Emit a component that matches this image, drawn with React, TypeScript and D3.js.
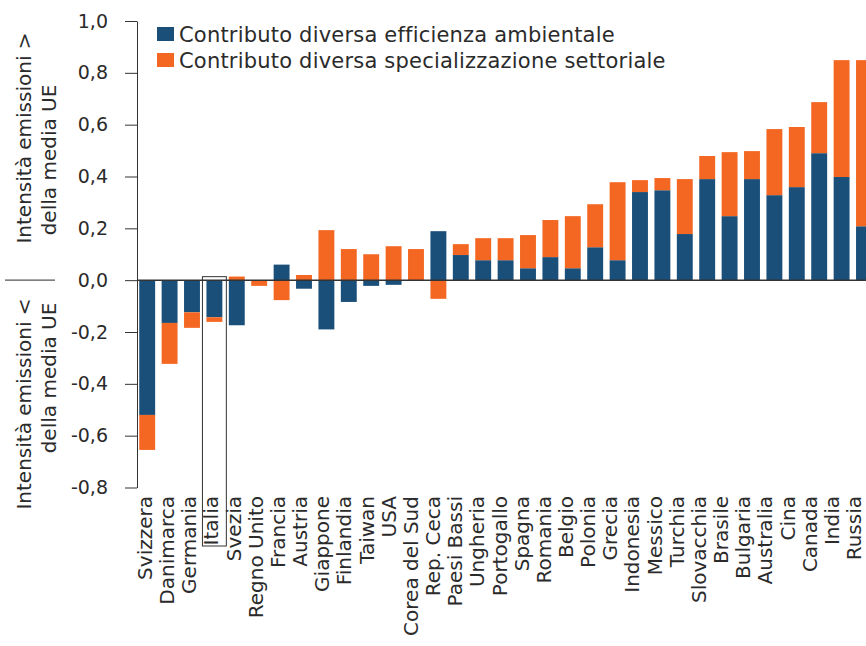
import React, { useEffect, useRef } from 'react';
import * as d3 from 'd3';

const countries = [
  'Svizzera', 'Danimarca', 'Germania', 'Italia', 'Svezia', 'Regno Unito', 'Francia', 'Austria',
  'Giappone', 'Finlandia', 'Taiwan', 'USA', 'Corea del Sud', 'Rep. Ceca', 'Paesi Bassi', 'Ungheria',
  'Portogallo', 'Spagna', 'Romania', 'Belgio', 'Polonia', 'Grecia', 'Indonesia', 'Messico',
  'Turchia', 'Slovacchia', 'Brasile', 'Bulgaria', 'Australia', 'Cina', 'Canada', 'India', 'Russia',
];

// Contributo diversa efficienza ambientale
const efficienza = [
  -0.52, -0.165, -0.124, -0.143, -0.174, 0.0, 0.06, -0.033,
  -0.19, -0.084, -0.022, -0.018, 0.0, 0.189, 0.097, 0.077,
  0.077, 0.046, 0.089, 0.046, 0.127, 0.077, 0.34, 0.347,
  0.178, 0.39, 0.247, 0.39, 0.328, 0.359, 0.49, 0.398, 0.208,
];

// Contributo diversa specializzazione settoriale
const specializzazione = [
  -0.135, -0.158, -0.06, -0.018, 0.014, -0.022, -0.077, 0.02,
  0.193, 0.12, 0.1, 0.131, 0.12, -0.072, 0.042, 0.085,
  0.085, 0.128, 0.143, 0.201, 0.166, 0.301, 0.046, 0.047,
  0.212, 0.089, 0.247, 0.108, 0.255, 0.232, 0.197, 0.451, 0.641,
];

const seriesNames = ['Contributo diversa efficienza ambientale', 'Contributo diversa specializzazione settoriale'];
const yTicks = [1.0, 0.8, 0.6, 0.4, 0.2, 0.0, -0.2, -0.4, -0.6, -0.8];
const highlighted = 'Italia';

const W = 866;
const H = 646;
const COLORS = ['#1a4f79', '#f46722'];
const FONT = "'DejaVu Sans', sans-serif";
const INK = '#2b2b2b';

const App: React.FC = () => {
  const svgRef = useRef<SVGSVGElement>(null);

  useEffect(() => {
    if (!svgRef.current) return;
    const svg = d3.select(svgRef.current);
    svg.selectAll('*').remove();

    const axisX = 137;
    const step = 22.4;
    const x = d3.scaleBand<string>()
      .domain(countries)
      .range([axisX, axisX + step * (countries.length - 0.29 + 0.2)])
      .paddingInner(0.29)
      .paddingOuter(0.1);

    // category labels sit on a slightly tighter grid than the bars
    const xLabel = d3.scalePoint<string>().domain(countries).range([146.5, 855.5]);

    const y = d3.scaleLinear().domain([-0.8, 1.0]).range([487.5, 21]);

    const rows = countries.map((c, i) => ({ country: c, a: efficienza[i], b: specializzazione[i] }));
    const stack = d3.stack<any>().keys(['a', 'b']).offset(d3.stackOffsetDiverging);
    const series = stack(rows);

    series.forEach((s, si) => {
      svg.append('g')
        .selectAll('rect')
        .data(s)
        .enter()
        .append('rect')
        .attr('x', d => x(d.data.country) || 0)
        .attr('width', x.bandwidth())
        .attr('y', d => y(Math.max(d[0], d[1])))
        .attr('height', d => Math.abs(y(d[0]) - y(d[1])))
        .attr('fill', COLORS[si]);
    });

    // zero line
    svg.append('line')
      .attr('x1', axisX).attr('x2', W)
      .attr('y1', y(0)).attr('y2', y(0))
      .attr('stroke', '#333').attr('stroke-width', 1.5);

    // y axis
    const yAxis = svg.append('g')
      .attr('transform', `translate(${axisX},0)`)
      .call(
        d3.axisLeft(y)
          .tickValues(yTicks)
          .tickSize(12)
          .tickSizeOuter(0)
          .tickPadding(17)
          .tickFormat(d => d3.format('.1f')(d as number).replace('.', ',').replace('−', '-'))
      );
    yAxis.select('.domain').attr('stroke', '#333');
    yAxis.selectAll('.tick line').attr('stroke', '#333');
    yAxis.selectAll('.tick text')
      .attr('fill', INK)
      .style('font-family', FONT)
      .style('font-size', '19px');

    // x labels
    svg.append('g')
      .selectAll('text')
      .data(countries)
      .enter()
      .append('text')
      .attr('transform', d => `translate(${(xLabel(d) || 0) + 5.5},496) rotate(-90)`)
      .attr('text-anchor', 'end')
      .attr('fill', INK)
      .style('font-family', FONT)
      .style('font-size', '20px')
      .text(d => d);

    // highlight box
    const hx = x(highlighted) || 0;
    svg.append('rect')
      .attr('x', hx - 4)
      .attr('y', y(0) - 3.5)
      .attr('width', x.bandwidth() + 8)
      .attr('height', 546 - (y(0) - 3.5))
      .attr('fill', 'none')
      .attr('stroke', '#333')
      .attr('stroke-width', 1);

    // legend
    const legend = svg.append('g').attr('transform', 'translate(157,27)');
    seriesNames.forEach((name, i) => {
      legend.append('rect')
        .attr('x', 0).attr('y', i * 26)
        .attr('width', 17).attr('height', 14)
        .attr('fill', COLORS[i]);
      legend.append('text')
        .attr('x', 22).attr('y', i * 26 + 14.5)
        .attr('fill', INK)
        .style('font-family', FONT)
        .style('font-size', '21px')
        .style('letter-spacing', '0.2px')
        .text(name);
    });

    // y titles
    const titles = [
      { lines: ['Intensità emissioni >', 'della media UE'], cy: [138, 160] },
      { lines: ['Intensità emissioni <', 'della media UE'], cy: [404, 378] },
    ];
    titles.forEach(t => {
      t.lines.forEach((line, li) => {
        svg.append('text')
          .attr('transform', `translate(${31 + li * 25},${t.cy[li]}) rotate(-90)`)
          .attr('text-anchor', 'middle')
          .attr('fill', INK)
          .style('font-family', FONT)
          .style('font-size', '20px')
          .text(line);
      });
    });
    svg.append('line')
      .attr('x1', 5).attr('x2', 55)
      .attr('y1', y(0)).attr('y2', y(0))
      .attr('stroke', '#555').attr('stroke-width', 1.2);
  }, []);

  return (
    <svg
      ref={svgRef}
      width={W}
      height={H}
      style={{ position: 'absolute', left: 0, top: 0, background: '#fff' }}
    />
  );
};

export default App;
